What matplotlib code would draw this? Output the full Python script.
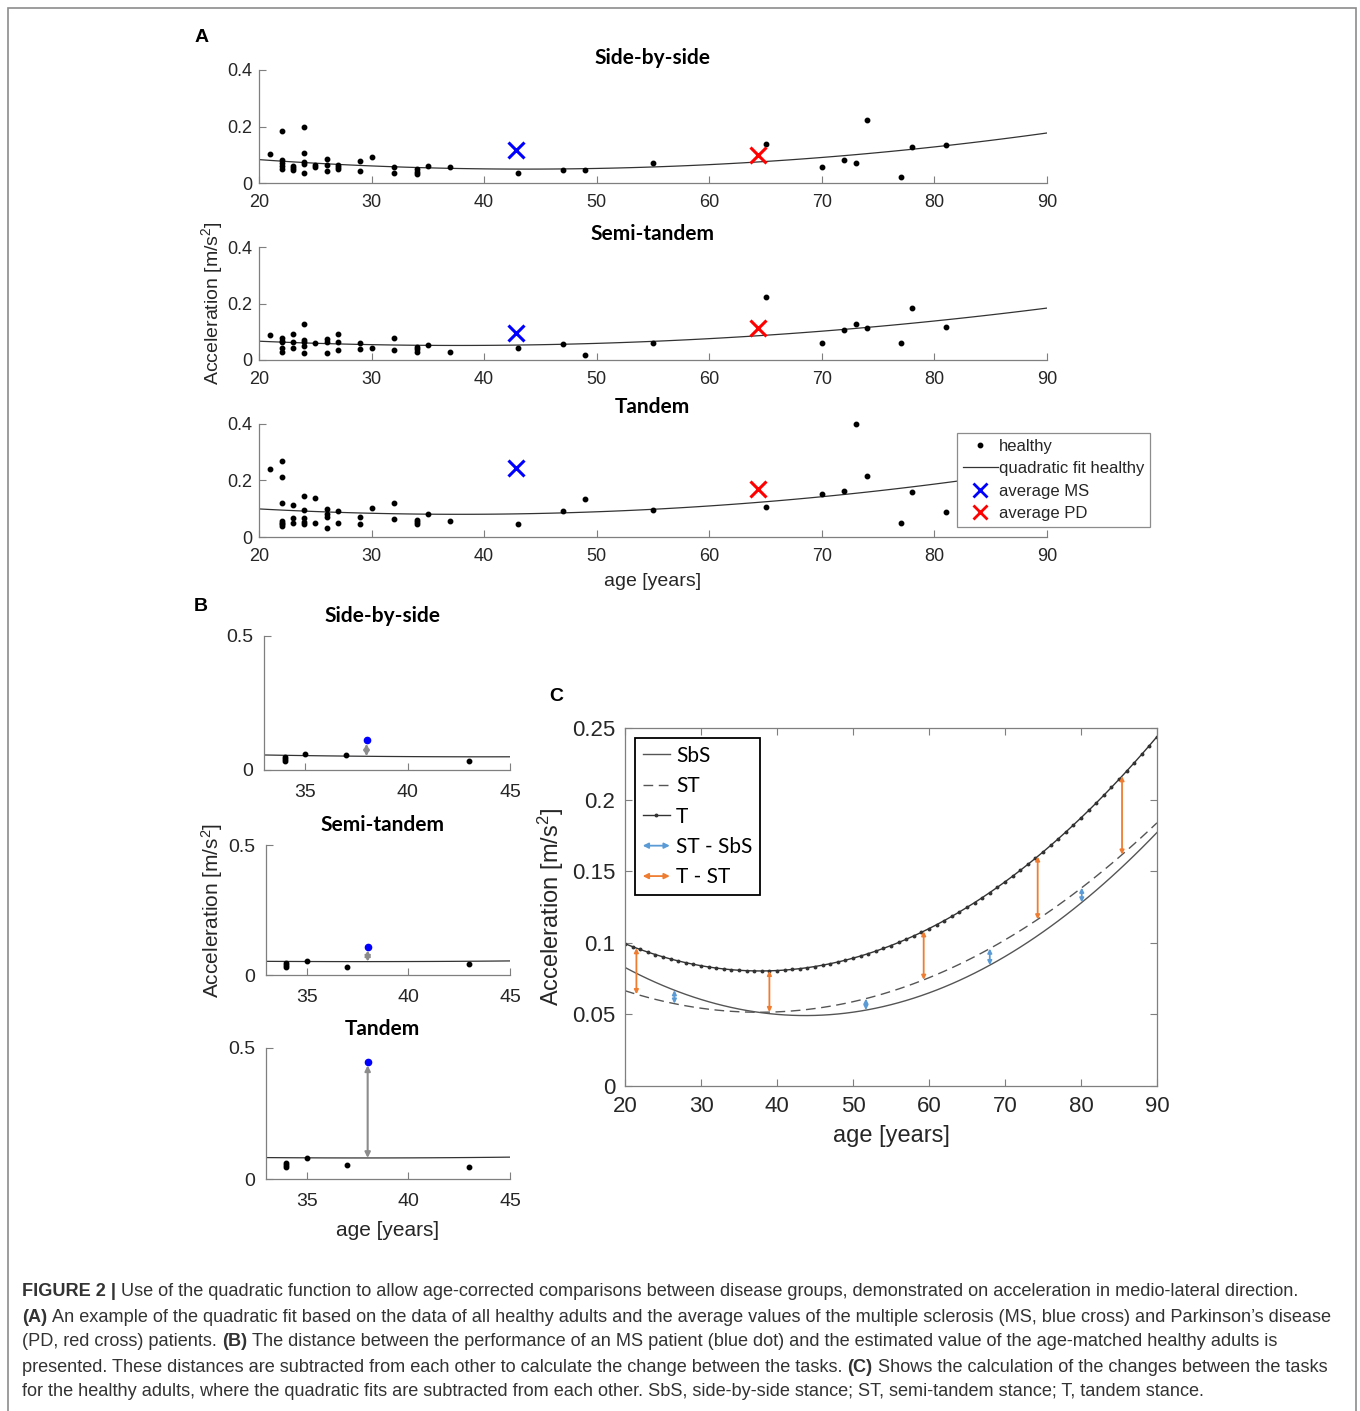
import numpy as np
import matplotlib.pyplot as plt
from matplotlib.lines import Line2D
from matplotlib.patches import FancyArrowPatch, Rectangle
from matplotlib.legend_handler import HandlerBase

plt.rcParams['font.family'] = ['Liberation Sans', 'DejaVu Sans']
plt.rcParams['mathtext.fontset'] = 'custom'
plt.rcParams['mathtext.rm'] = 'Liberation Sans'
plt.rcParams['mathtext.it'] = 'Liberation Sans:italic'

# ---- data ----
sbs_age = [21, 22, 22, 22, 22, 22, 23, 23, 23, 24, 24, 24, 24, 24, 25, 25, 26, 26, 26,
           27, 27, 27, 29, 29, 30, 32, 32, 34, 34, 34, 35, 37, 43, 47, 49, 55, 65, 70,
           72, 73, 74, 77, 78, 81]
sbs_val = [0.102, 0.184, 0.083, 0.071, 0.060, 0.049, 0.061, 0.054, 0.046, 0.198, 0.106,
           0.076, 0.068, 0.036, 0.064, 0.058, 0.085, 0.062, 0.042, 0.064, 0.056, 0.049,
           0.078, 0.044, 0.091, 0.056, 0.036, 0.049, 0.040, 0.032, 0.061, 0.057, 0.035,
           0.046, 0.047, 0.071, 0.139, 0.055, 0.080, 0.070, 0.223, 0.023, 0.129, 0.136]

st_age = [21, 22, 22, 22, 22, 22, 23, 23, 23, 24, 24, 24, 24, 24, 25, 26, 26, 26, 27, 27,
          27, 29, 29, 30, 32, 32, 34, 34, 34, 35, 37, 43, 47, 49, 55, 65, 70, 72, 73, 74,
          77, 78, 81]
st_val = [0.087, 0.078, 0.068, 0.062, 0.041, 0.028, 0.093, 0.062, 0.042, 0.126, 0.071,
          0.064, 0.049, 0.026, 0.059, 0.075, 0.064, 0.026, 0.091, 0.062, 0.036, 0.060,
          0.039, 0.042, 0.078, 0.035, 0.046, 0.038, 0.030, 0.053, 0.029, 0.041, 0.055,
          0.016, 0.059, 0.224, 0.061, 0.105, 0.126, 0.112, 0.061, 0.185, 0.118]

t_age = [21, 22, 22, 22, 22, 22, 22, 22, 23, 23, 23, 24, 24, 24, 24, 24, 25, 25, 26, 26,
         26, 26, 27, 27, 29, 29, 30, 32, 32, 34, 34, 34, 35, 37, 43, 47, 49, 55, 65, 70,
         72, 73, 74, 77, 78, 81]
t_val = [0.240, 0.268, 0.211, 0.120, 0.056, 0.051, 0.045, 0.039, 0.113, 0.066, 0.048,
         0.144, 0.095, 0.066, 0.054, 0.046, 0.139, 0.049, 0.100, 0.081, 0.072, 0.031,
         0.092, 0.049, 0.072, 0.046, 0.101, 0.122, 0.065, 0.061, 0.053, 0.046, 0.081,
         0.055, 0.045, 0.093, 0.136, 0.095, 0.105, 0.153, 0.164, 0.399, 0.215, 0.048,
         0.159, 0.089]

# quadratic fit values of the healthy group, read at these ages
fit_age = [20, 30, 40, 50, 60, 70, 80, 90]
fit_sbs = [0.083, 0.060, 0.050, 0.052, 0.065, 0.090, 0.128, 0.177]
fit_st = [0.066, 0.055, 0.052, 0.059, 0.075, 0.102, 0.138, 0.184]
fit_t = [0.099, 0.084, 0.081, 0.090, 0.110, 0.142, 0.186, 0.245]

ms_age, pd_age = 42.8, 64.3
ms_val = [0.118, 0.096, 0.246]
pd_val = [0.098, 0.112, 0.169]

patient_age = 38
patient_val = [0.111, 0.108, 0.447]

arrow_ts_age = [21.5, 39, 59.3, 74.3, 85.4]
arrow_sts_age = [26.5, 51.7, 68, 80.1]

titles = ['Side-by-side', 'Semi-tandem', 'Tandem']

W, H = 1360, 1411
GRID = np.arange(20, 91)
AXC = '#7f7f7f'
TXC = '#262626'


def fx(x):
    return x / W


def fy(y):
    return 1 - y / H


def px_axes(fig, x0, y0, x1, y1):
    return fig.add_axes([x0 / W, 1 - y1 / H, (x1 - x0) / W, (y1 - y0) / H])


def matlab_open(ax, size):
    ax.spines['top'].set_visible(False)
    ax.spines['right'].set_visible(False)
    for s in ('left', 'bottom'):
        ax.spines[s].set_color(AXC)
        ax.spines[s].set_linewidth(0.9)
    ax.tick_params(direction='in', length=5, color=AXC, labelcolor=TXC,
                   labelsize=size, pad=8)


def quad(vals):
    return np.polyval(np.polyfit(fit_age, vals, 2), GRID)


class ArrowHandler(HandlerBase):
    def create_artists(self, legend, orig_handle, xdescent, ydescent, width, height,
                       fontsize, trans):
        y = height / 2 - ydescent
        a = FancyArrowPatch((-xdescent, y), (-xdescent + width, y), arrowstyle='<|-|>',
                            mutation_scale=8, color=orig_handle.get_color(), lw=1.3,
                            shrinkA=0, shrinkB=0, transform=trans)
        return [a]


fig = plt.figure(figsize=(W / 100, H / 100), dpi=100)
fig.patches.append(Rectangle((fx(8), fy(1430)), fx(1348), fy(8) - fy(1430),
                             transform=fig.transFigure, fill=False, ec='#8c8c8c', lw=1.2))

fits = [quad(fit_sbs), quad(fit_st), quad(fit_t)]
ages = [sbs_age, st_age, t_age]
vals = [sbs_val, st_val, t_val]

# ---- panel A ----
a_boxes = [(259, 70, 1047, 183), (259, 247, 1047, 360), (259, 424, 1047, 537)]
a_title_y = [58, 234, 407]
for i, box in enumerate(a_boxes):
    ax = px_axes(fig, *box)
    ax.plot(GRID, fits[i], color='#333333', lw=0.9)
    ax.plot(ages[i], vals[i], 'o', color='black', ms=3.2, clip_on=False)
    ax.plot(ms_age, ms_val[i], 'x', color='#0000ff', ms=11, mew=2.2)
    ax.plot(pd_age, pd_val[i], 'x', color='#ff0000', ms=11, mew=2.2)
    ax.set_xlim(20, 90)
    ax.set_ylim(0, 0.4)
    ax.set_xticks(range(20, 91, 10))
    ax.set_yticks([0, 0.2, 0.4])
    ax.set_yticklabels(['0', '0.2', '0.4'])
    matlab_open(ax, 13)
    ax.tick_params(axis='y', pad=5)
    fig.text(fx(652), fy(a_title_y[i]), titles[i], family='Lato', fontweight='bold',
             fontsize=15, ha='center', va='center', color='black')

fig.text(fx(212), fy(303), 'Acceleration [m/s$^2$]', rotation=90, fontsize=14,
         ha='center', va='center', color=TXC)
fig.text(fx(653), fy(582), 'age [years]', fontsize=14, ha='center', va='center', color=TXC)

leg_handles = [
    Line2D([], [], ls='none', marker='o', ms=3.2, color='black'),
    Line2D([], [], color='#333333', lw=0.9),
    Line2D([], [], ls='none', marker='x', ms=10, mew=2, color='#0000ff'),
    Line2D([], [], ls='none', marker='x', ms=10, mew=2, color='#ff0000'),
]
leg = fig.legend(leg_handles, ['healthy', 'quadratic fit healthy', 'average MS', 'average PD'],
                 loc='upper left', bbox_to_anchor=(fx(957), fy(433)), fontsize=12,
                 frameon=True, fancybox=False, framealpha=1, edgecolor='#8c8c8c',
                 handlelength=2.1, handletextpad=0.05, borderpad=0.35, labelspacing=0.45,
                 borderaxespad=0)
leg.get_frame().set_linewidth(0.9)
for t in leg.get_texts():
    t.set_color(TXC)

# ---- panel B ----
b_boxes = [(264, 636, 510, 770), (266, 845, 510, 975), (266, 1048, 510, 1179)]
b_title_y = [616, 825, 1029]
for i, box in enumerate(b_boxes):
    ax = px_axes(fig, *box)
    ax.plot(GRID, fits[i], color='#333333', lw=0.9)
    ax.plot(ages[i], vals[i], 'o', color='black', ms=3.2)
    fit_here = np.polyval(np.polyfit(fit_age, [fit_sbs, fit_st, fit_t][i], 2), patient_age)
    ax.annotate('', xy=(patient_age, patient_val[i]), xytext=(patient_age, fit_here),
                arrowprops=dict(arrowstyle='<|-|>', color='#8c8c8c', lw=1.5,
                                mutation_scale=8, shrinkA=0, shrinkB=2.5))
    ax.plot(patient_age, patient_val[i], 'o', color='#0000ff', ms=4.5)
    ax.set_xlim(33, 45)
    ax.set_ylim(0, 0.5)
    ax.set_xticks([35, 40, 45])
    ax.set_yticks([0, 0.5])
    ax.set_yticklabels(['0', '0.5'])
    matlab_open(ax, 14)
    ax.tick_params(axis='x', pad=10)
    fig.text(fx(382), fy(b_title_y[i]), titles[i], family='Lato', fontweight='bold',
             fontsize=15, ha='center', va='center', color='black')

fig.text(fx(212), fy(910), 'Acceleration [m/s$^2$]', rotation=90, fontsize=15,
         ha='center', va='center', color=TXC)
fig.text(fx(388), fy(1230), 'age [years]', fontsize=15, ha='center', va='center', color=TXC)

# ---- panel C ----
ax = px_axes(fig, 625, 728, 1157, 1086)
ax.plot(GRID, fits[0], color='#555555', lw=1.0, label='SbS')
ax.plot(GRID, fits[1], color='#555555', lw=1.0, ls=(0, (7, 4)), label='ST')
ax.plot(GRID, fits[2], color='#333333', lw=1.0, marker='o', ms=1.8, label='T')
coef = [np.polyfit(fit_age, v, 2) for v in (fit_sbs, fit_st, fit_t)]
for x in arrow_sts_age:
    lo, hi = np.polyval(coef[0], x), np.polyval(coef[1], x)
    ax.annotate('', xy=(x, hi), xytext=(x, lo),
                arrowprops=dict(arrowstyle='<|-|>', color='#5b9bd5', lw=1.3,
                                mutation_scale=6, shrinkA=0, shrinkB=0))
for x in arrow_ts_age:
    lo, hi = np.polyval(coef[1], x), np.polyval(coef[2], x)
    ax.annotate('', xy=(x, hi), xytext=(x, lo),
                arrowprops=dict(arrowstyle='<|-|>', color='#ef7d31', lw=1.3,
                                mutation_scale=6, shrinkA=0, shrinkB=0))
ax.set_xlim(20, 90)
ax.set_ylim(0, 0.25)
ax.set_xticks(range(20, 91, 10))
ax.set_yticks([0, 0.05, 0.1, 0.15, 0.2, 0.25])
ax.set_yticklabels(['0', '0.05', '0.1', '0.15', '0.2', '0.25'])
for s in ax.spines.values():
    s.set_color(AXC)
    s.set_linewidth(0.9)
ax.tick_params(direction='in', length=5, color=AXC, labelcolor=TXC, labelsize=16,
               top=True, right=True, pad=7)
ax.set_xlabel('age [years]', fontsize=17, color=TXC, labelpad=6)
ax.set_ylabel('Acceleration [m/s$^2$]', fontsize=17, color=TXC, labelpad=4)

blue_proxy = Line2D([], [], color='#5b9bd5')
orange_proxy = Line2D([], [], color='#ef7d31')
h, l = ax.get_legend_handles_labels()
legc = ax.legend(h + [blue_proxy, orange_proxy], l + ['ST - SbS', 'T - ST'],
                 loc='upper left', prop={'family': 'Lato', 'size': 15},
                 frameon=True, fancybox=False, framealpha=1, edgecolor='black',
                 handlelength=1.3, handletextpad=0.3, borderpad=0.35, labelspacing=0.5,
                 borderaxespad=0.5,
                 handler_map={blue_proxy: ArrowHandler(), orange_proxy: ArrowHandler()})
legc.get_frame().set_linewidth(1.3)
for t in legc.get_texts():
    t.set_color('black')

# ---- panel letters ----
for lab, x, y in [('A', 202, 38), ('B', 201, 606), ('C', 556, 697)]:
    fig.text(fx(x), fy(y), lab, fontsize=14, fontweight='bold', ha='center', va='center')

# ---- caption ----
caption = [
    [('FIGURE 2 |', True), ('Use of the quadratic function to allow age-corrected comparisons '
                            'between disease groups, demonstrated on acceleration in '
                            'medio-lateral direction.', False)],
    [('(A)', True), ('An example of the quadratic fit based on the data of all healthy adults '
                     'and the average values of the multiple sclerosis (MS, blue cross) and '
                     'Parkinson\u2019s disease', False)],
    [('(PD, red cross) patients.', False), ('(B)', True),
     ('The distance between the performance of an MS patient (blue dot) and the estimated '
      'value of the age-matched healthy adults is', False)],
    [('presented. These distances are subtracted from each other to calculate the change '
      'between the tasks.', False), ('(C)', True),
     ('Shows the calculation of the changes between the tasks', False)],
    [('for the healthy adults, where the quadratic fits are subtracted from each other. SbS, '
      'side-by-side stance; ST, semi-tandem stance; T, tandem stance.', False)],
]
cap_size = 13.1
r = fig.canvas.get_renderer()
probe1 = fig.text(0, 0, 'n n', fontsize=cap_size)
probe2 = fig.text(0, 0, 'nn', fontsize=cap_size)
space = probe1.get_window_extent(r).width - probe2.get_window_extent(r).width
probe1.remove()
probe2.remove()
for k, parts in enumerate(caption):
    x = 22
    y = 1292 + 25 * k
    for s, bold in parts:
        t = fig.text(fx(x), fy(y), s, fontsize=cap_size, color='#333333', va='center',
                     fontweight='bold' if bold else 'normal')
        x += t.get_window_extent(r).width + space

fig.savefig('out.png', dpi=100)
